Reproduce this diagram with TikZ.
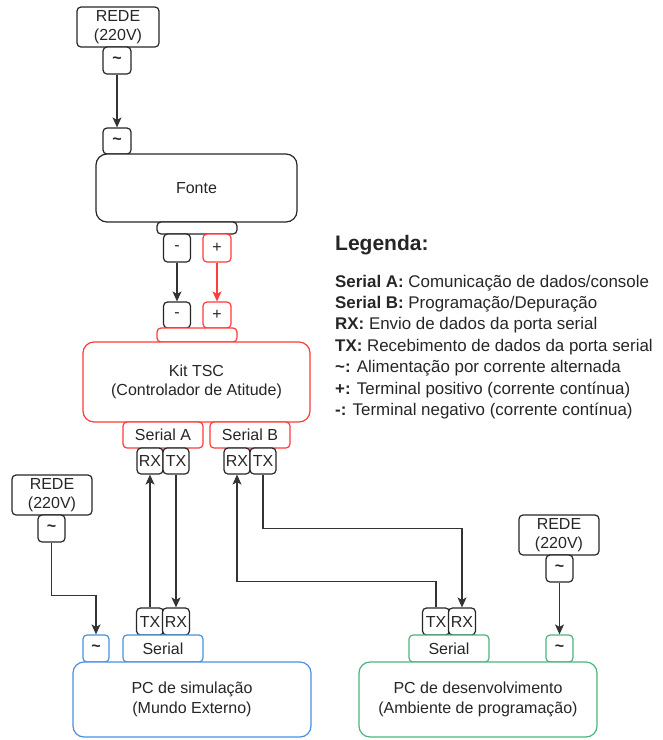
\documentclass[tikz,border=0pt]{standalone}
\usepackage{fontspec}
\setmainfont{Liberation Sans}
\usepackage{xcolor}
\usetikzlibrary{arrows.meta,positioning}
\definecolor{kitred}{HTML}{FF3B3B}
\definecolor{simblue}{HTML}{4A90E2}
\definecolor{devgreen}{HTML}{4CB47C}
\newcommand{\nodefont}{\fontsize{16}{19.5}\selectfont}
\newcommand{\legfont}{\fontsize{16.9}{21.4}\selectfont}
\newcommand{\ac}{\textbf{\textasciitilde}}

\begin{document}
\begin{tikzpicture}[x=1pt,y=1pt,
  box/.style={draw=#1,line width=1.2pt,rounded corners=4pt,fill=white,inner sep=0pt,
              text=black!85,font=\nodefont,align=center},box/.default=black!85,
  unit/.style={box=#1,rounded corners=11pt},
  sz/.style 2 args={minimum width=#1,minimum height=#2},
  wire/.style={draw=#1,line width=1.2pt,-{Stealth[length=10pt,width=9pt,inset=2.5pt]}},wire/.default=black!80]
  \useasboundingbox (0,0) rectangle (663,-740);
  % fonte
  \node[box,sz={82}{40}] (rede1) at (118,-27) {REDE\\(220V)};
  \node[box,sz={28}{27}] (ac1) at (117,-60.5) {\ac};
  \node[box,sz={28}{26}] (ac2) at (117,-141) {\ac};
  \node[unit,sz={201}{68}] (fonte) at (196.5,-188) {Fonte};
  \node[box,sz={80}{12}] (fbar) at (197,-228) {};
  \node[box,sz={27}{28}] (fneg) at (177,-248) {-};
  \node[box=kitred,sz={28}{28}] (fpos) at (217,-248) {+};
  % kit
  \node[box,sz={27}{26}] (kneg) at (177,-315) {-};
  \node[box=kitred,sz={28}{26}] (kpos) at (217,-315) {+};
  \node[box=kitred,sz={80}{14}] (kbar) at (197,-335) {};
  \node[unit=kitred,sz={227}{80}] (kit) at (196.5,-382) {Kit TSC\\(Controlador de Atitude)};
  \node[box=kitred,sz={80}{26}] (serA) at (163,-435) {Serial A};
  \node[box=kitred,sz={80}{26}] (serB) at (250,-435) {Serial B};
  \node[box,sz={26}{26}] (rxA) at (150,-461) {RX};
  \node[box,sz={26}{26}] (txA) at (176,-461) {TX};
  \node[box,sz={26}{26}] (rxB) at (237,-461) {RX};
  \node[box,sz={26}{26}] (txB) at (263,-461) {TX};
  % pc de simulacao
  \node[box,sz={80}{40}] (rede2) at (52,-495) {REDE\\(220V)};
  \node[box,sz={27}{27}] (ac3) at (51.5,-528.5) {\ac};
  \node[box,sz={27}{27}] (simtx) at (150,-621.5) {TX};
  \node[box,sz={27}{27}] (simrx) at (176,-621.5) {RX};
  \node[box=simblue,sz={26}{27}] (simac) at (96,-648.5) {\ac};
  \node[box=simblue,sz={80}{27}] (simser) at (163,-648.5) {Serial};
  \node[unit=simblue,sz={238}{75}] (sim) at (192,-699.5) {PC de simulação\\(Mundo Externo)};
  % pc de desenvolvimento
  \node[box,sz={80}{40}] (rede3) at (559,-535) {REDE\\(220V)};
  \node[box,sz={27}{27}] (ac4) at (559.5,-568.5) {\ac};
  \node[box,sz={27}{27}] (devtx) at (436,-621.5) {TX};
  \node[box,sz={27}{27}] (devrx) at (462,-621.5) {RX};
  \node[box=devgreen,sz={80}{27}] (devser) at (449,-648.5) {Serial};
  \node[box=devgreen,sz={27}{27}] (devac) at (559.5,-648.5) {\ac};
  \node[unit=devgreen,sz={238}{75}] (dev) at (478,-699.5) {PC de desenvolvimento\\(Ambiente de programação)};
  % legenda
  \node[anchor=base west,inner sep=0pt,text=black!85,font=\fontsize{21}{25}\selectfont\bfseries] (leg) at (335,-250) {Legenda:};
  \node[anchor=base west,inner sep=0pt,align=left,text=black!85,font=\legfont] (legtxt) at (335,-415.4)
    {\textbf{Serial A:} Comunicação de dados/console\\
     \textbf{Serial B:} Programação/Depuração\\
     \textbf{RX:} Envio de dados da porta serial\\
     \textbf{TX:} Recebimento de dados da porta serial\\
     \textbf{\ac:} Alimentação por corrente alternada\\
     \textbf{+:} Terminal positivo (corrente contínua)\\
     \textbf{-:} Terminal negativo (corrente contínua)};
  % ligacoes
  \foreach \a/\b in {ac1/ac2,fneg/kneg,ac4/devac,txA/simrx}
    \draw[wire] (\a.south) -- (\b.north);
  \draw[wire=kitred] (fpos.south) -- (kpos.north);
  \draw[wire] (simtx.north) -- (rxA.south);
  \draw[wire] (ac3.south) -- ++(0,-53) -| (simac.north);
  \draw[wire] (devtx.north) -- ++(0,26) -| (rxB.south);
  \draw[wire] (txB.south) -- ++(0,-54) -| (devrx.north);
\end{tikzpicture}
\end{document}
